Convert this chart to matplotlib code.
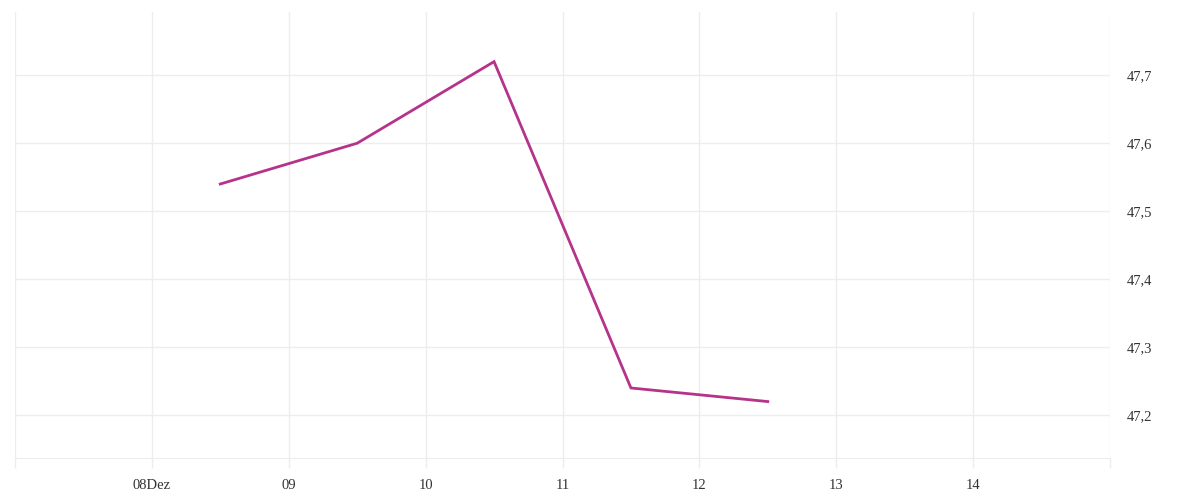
import matplotlib.pyplot as plt

# Data: day of December (midday points) and values
days = [8.5, 9.5, 10.5, 11.5, 12.5]
values = [47.54, 47.60, 47.72, 47.24, 47.22]

tick_days = [7, 8, 9, 10, 11, 12, 13, 14, 15]
tick_labels = ['', '08Dez', '09', '10', '11', '12', '13', '14', '']
y_ticks = [47.2, 47.3, 47.4, 47.5, 47.6, 47.7]
y_labels = ['47,2', '47,3', '47,4', '47,5', '47,6', '47,7']

grid_col = '#ededed'

fig = plt.figure(figsize=(12, 5), dpi=100)
ax = fig.add_axes([15 / 1200, 42 / 500, 1095 / 1200, 446 / 500])

ax.plot(days, values, color='#b5338a', linewidth=2, solid_joinstyle='miter')

ax.set_xlim(7, 15)
ax.set_ylim(47.137, 47.793)

ax.set_xticks(tick_days, tick_labels)
ax.set_yticks(y_ticks, y_labels)
ax.yaxis.tick_right()

ax.grid(True, color=grid_col, linewidth=1)
ax.set_axisbelow(True)

for s in ['top', 'right', 'left']:
    ax.spines[s].set_visible(False)
ax.spines['bottom'].set_color(grid_col)

ax.tick_params(axis='x', length=7.2, width=1, color=grid_col, pad=8,
               labelsize=10.5, labelcolor='#333333')
ax.tick_params(axis='y', length=0, pad=12, labelsize=10.5, labelcolor='#333333')
for lab in ax.get_xticklabels() + ax.get_yticklabels():
    lab.set_fontfamily('Liberation Serif')

plt.savefig('out.png', dpi=100)
